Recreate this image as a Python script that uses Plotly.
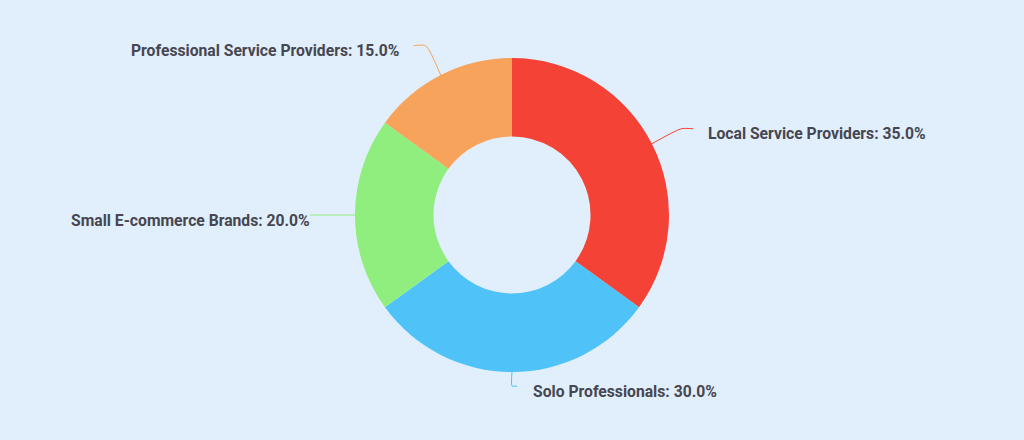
import math
import plotly.graph_objects as go

# ---- data ----
categories = ["Local Service Providers", "Solo Professionals", "Small E-commerce Brands", "Professional Service Providers"]
shares = [35.0, 30.0, 20.0, 15.0]
colors = ["#F44336", "#4FC3F7", "#90EE7E", "#F7A35C"]

# ---- layout / style ----
W, H = 1024, 440
BG = "#E1EEFB"
cx, cy = 512, 215          # pie centre in pixels
R = 157                    # outer radius in pixels
HOLE = 0.5
radial_len = [33, 14, 33, 33]   # leader line radial part (px)
horiz_len = [12, 5, 12, 12]     # leader line horizontal part (px)
text_gap = [13, 14, -2, 13]
TEXT_COLOR = "#464650"

fig = go.Figure()

fig.add_trace(go.Pie(
    labels=categories,
    values=shares,
    hole=HOLE,
    sort=False,
    direction="clockwise",
    rotation=0,
    marker=dict(colors=colors, line=dict(width=0)),
    textinfo="none",
    hoverinfo="label+percent",
    showlegend=False,
    domain=dict(x=[(cx - R) / W, (cx + R) / W], y=[(H - cy - R) / H, (H - cy + R) / H]),
))

total = sum(shares)
cum = 0.0
annotations = []
for i, (cat, v) in enumerate(zip(categories, shares)):
    mid = (cum + v / 2) / total * 2 * math.pi
    cum += v
    sx, sy = math.sin(mid), -math.cos(mid)
    p1 = (cx + R * sx, cy + R * sy)
    r2 = R + radial_len[i]
    p2 = (cx + r2 * sx, cy + r2 * sy)
    side = 1 if sx >= -1e-9 else -1
    p3 = (p2[0] + side * horiz_len[i], p2[1])
    fig.add_trace(go.Scatter(
        x=[p1[0], p2[0], p3[0]], y=[p1[1], p2[1], p3[1]],
        mode="lines", line=dict(color=colors[i], width=1, shape="spline", smoothing=0.6),
        hoverinfo="skip", showlegend=False,
    ))
    pct = v / total * 100
    annotations.append(dict(
        x=p3[0] + side * text_gap[i], y=p3[1] + 5, xref="x", yref="y",
        text=f"{cat}: {pct:.1f}%", showarrow=False,
        xanchor="left" if side > 0 else "right", yanchor="middle",
        font=dict(family="Roboto", size=15.7, color=TEXT_COLOR, weight="bold"),
    ))

fig.update_layout(
    width=W, height=H,
    margin=dict(l=0, r=0, t=0, b=0),
    paper_bgcolor=BG, plot_bgcolor="rgba(0,0,0,0)",
    xaxis=dict(range=[0, W], visible=False, fixedrange=True, domain=[0, 1]),
    yaxis=dict(range=[H, 0], visible=False, fixedrange=True, domain=[0, 1]),
    annotations=annotations,
    showlegend=False,
)

fig.write_html(
    "out.html",
    config={"displayModeBar": False},
    post_script=f"document.body.style.margin='0';document.body.style.overflow='hidden';document.body.style.background='{BG}';",
)
